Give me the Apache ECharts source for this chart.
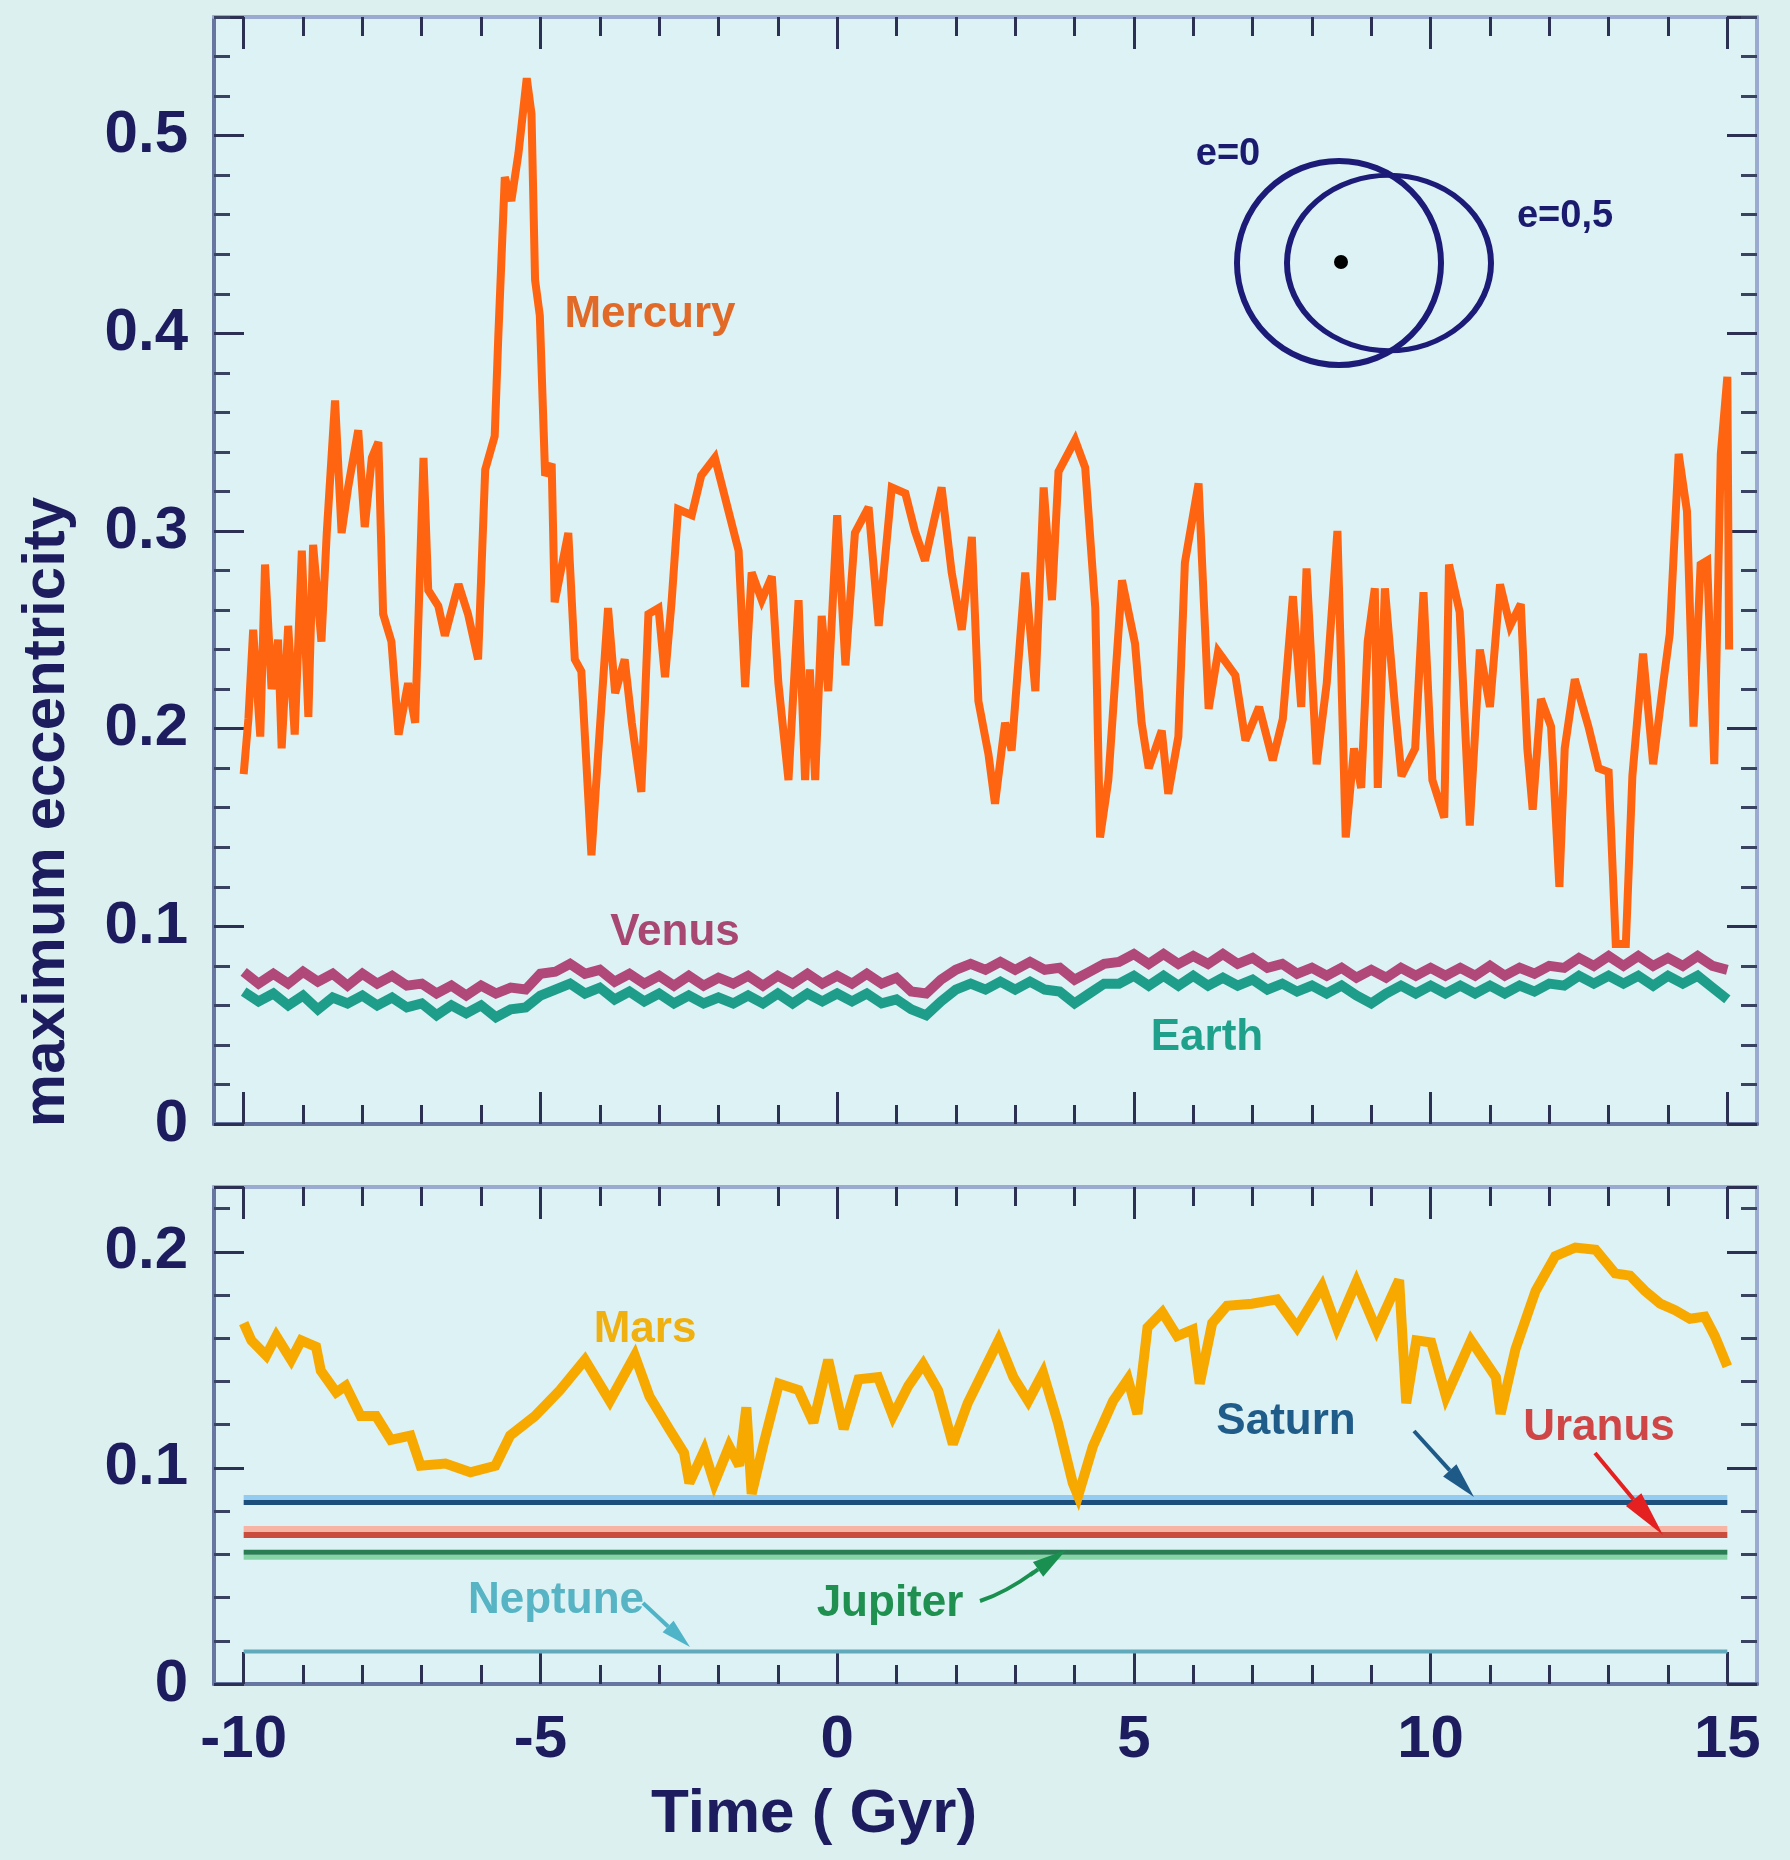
<!DOCTYPE html>
<html>
<head>
<meta charset="utf-8">
<title>maximum eccentricity</title>
<script src="https://cdn.jsdelivr.net/npm/echarts@6/dist/echarts.min.js"></script>
<style>
html, body { margin: 0; padding: 0; background: #dcf0f0; }
#cn { width: 1790px; height: 1860px; }
</style>
</head>
<body>
<div id="cn"></div>
<script>
'use strict';

// time axis ticks (Gyr)
const xMajor = [-10, -5, 0, 5, 10, 15];
const xMinor = [-10, -9, -8, -7, -6, -5, -4, -3, -2, -1, 0, 1, 2, 3, 4, 5, 6, 7, 8, 9, 10, 11, 12, 13, 14, 15];

// Mercury
const mercuryT = [-10.0, -9.92, -9.84, -9.72, -9.64, -9.53, -9.42, -9.36, -9.25, -9.14, -9.02, -8.91, -8.83, -8.69, -8.60, -8.46, -8.35, -8.24, -8.07, -7.96,
    -7.84, -7.73, -7.65, -7.51, -7.39, -7.23, -7.11, -6.97, -6.89, -6.72, -6.61, -6.38, -6.22, -6.05, -5.93, -5.77, -5.71, -5.60, -5.49, -5.37,
    -5.23, -5.15, -5.09, -5.01, -4.92, -4.81, -4.76, -4.53, -4.42, -4.31, -4.14, -4.03, -3.86, -3.74, -3.58, -3.46, -3.30, -3.18, -3.01, -2.90,
    -2.79, -2.68, -2.45, -2.29, -2.06,
    -1.66, -1.55, -1.44, -1.27, -1.10, -0.99, -0.82, -0.65, -0.54, -0.46, -0.37, -0.26, -0.15, 0.00, 0.14, 0.30, 0.53, 0.70, 0.92, 1.15,
    1.31, 1.48, 1.76, 1.93, 2.10, 2.27, 2.38, 2.55, 2.66, 2.83, 2.94, 3.17, 3.34, 3.48, 3.62, 3.73, 4.01, 4.18, 4.35, 4.43,
    4.57, 4.80, 5.02, 5.13, 5.25, 5.47, 5.58, 5.75, 5.86, 6.09, 6.26, 6.42,
    6.71, 6.88, 7.11, 7.34, 7.51, 7.68, 7.82, 7.91, 8.08, 8.25, 8.43, 8.57, 8.71, 8.83, 8.94, 9.06, 9.11, 9.23, 9.40, 9.51,
    9.74, 9.88, 10.03, 10.23, 10.31, 10.49, 10.66, 10.83, 11.00, 11.17, 11.34, 11.52, 11.63, 11.72, 11.86, 12.03, 12.17, 12.26, 12.43, 12.66,
    12.83, 13.00, 13.12, 13.29, 13.40, 13.58, 13.75, 13.92, 14.03, 14.18, 14.32, 14.43, 14.55, 14.66, 14.78, 14.89, 15.0, 15.03];
const mercuryE = [0.177, 0.205, 0.250, 0.196, 0.283, 0.220, 0.245, 0.190, 0.252, 0.197, 0.290, 0.206, 0.293, 0.244, 0.299, 0.366, 0.299, 0.322, 0.351, 0.302,
    0.337, 0.345, 0.258, 0.244, 0.197, 0.223, 0.203, 0.337, 0.270, 0.262, 0.247, 0.273, 0.258, 0.235, 0.331, 0.348, 0.398, 0.479, 0.467, 0.491,
    0.529, 0.511, 0.427, 0.409, 0.328, 0.334, 0.264, 0.299, 0.235, 0.229, 0.136, 0.186, 0.261, 0.218, 0.235, 0.203, 0.168, 0.258, 0.261, 0.226,
    0.264, 0.311, 0.308, 0.328, 0.337,
    0.290, 0.221, 0.279, 0.265, 0.277, 0.223, 0.174, 0.265, 0.174, 0.230, 0.174, 0.257, 0.219, 0.308, 0.232, 0.299, 0.312, 0.252, 0.322, 0.319,
    0.300, 0.285, 0.322, 0.279, 0.250, 0.297, 0.214, 0.187, 0.162, 0.203, 0.189, 0.279, 0.219, 0.322, 0.265, 0.330, 0.346, 0.332, 0.261, 0.145,
    0.174, 0.275, 0.243, 0.203, 0.180, 0.199, 0.167, 0.196, 0.284, 0.324, 0.210, 0.239,
    0.227, 0.194, 0.211, 0.184, 0.205, 0.267, 0.211, 0.281, 0.182, 0.223, 0.300, 0.145, 0.190, 0.170, 0.244, 0.271, 0.170, 0.271, 0.211, 0.176,
    0.190, 0.269, 0.174, 0.155, 0.283, 0.259, 0.151, 0.240, 0.211, 0.273, 0.252, 0.263, 0.190, 0.159, 0.215, 0.201, 0.120, 0.190, 0.225, 0.201,
    0.180, 0.178, 0.091, 0.091, 0.176, 0.238, 0.182, 0.223, 0.248, 0.339, 0.310, 0.201, 0.283, 0.285, 0.182, 0.339, 0.378, 0.240];

// Venus and Earth share one time grid
const innerT = [-10, -9.75, -9.5, -9.25, -9, -8.75, -8.5, -8.25, -8, -7.75, -7.5, -7.25, -7, -6.75, -6.5, -6.25, -6, -5.75, -5.5, -5.25,
    -5, -4.75, -4.5, -4.25, -4, -3.75, -3.5, -3.25, -3, -2.75, -2.5, -2.25, -2, -1.75, -1.5, -1.25, -1, -0.75, -0.5, -0.25,
    0, 0.25, 0.5, 0.75, 1, 1.25, 1.5, 1.75, 2, 2.25, 2.5, 2.75, 3, 3.25, 3.5, 3.75, 4, 4.25, 4.5, 4.75,
    5, 5.25, 5.5, 5.75, 6, 6.25, 6.5, 6.75, 7, 7.25, 7.5, 7.75, 8, 8.25, 8.5, 8.75, 9, 9.25, 9.5, 9.75,
    10, 10.25, 10.5, 10.75, 11, 11.25, 11.5, 11.75, 12, 12.25, 12.5, 12.75, 13, 13.25, 13.5, 13.75, 14, 14.25, 14.5, 14.75, 15];
const venusE = [0.077, 0.071, 0.076, 0.071, 0.077, 0.072, 0.076, 0.070, 0.076, 0.071, 0.075, 0.070, 0.071, 0.066, 0.070, 0.065, 0.070, 0.066, 0.069, 0.068,
    0.076, 0.077, 0.081, 0.076, 0.078, 0.072, 0.076, 0.071, 0.075, 0.070, 0.075, 0.070, 0.074, 0.071, 0.075, 0.070, 0.075, 0.071, 0.076, 0.071,
    0.075, 0.071, 0.076, 0.071, 0.074, 0.067, 0.066, 0.073, 0.078, 0.081, 0.078, 0.082, 0.078, 0.082, 0.078, 0.079, 0.073, 0.077, 0.081, 0.082,
    0.086, 0.081, 0.086, 0.081, 0.085, 0.081, 0.086, 0.081, 0.084, 0.079, 0.081, 0.076, 0.079, 0.075, 0.079, 0.074, 0.078, 0.074, 0.079, 0.075,
    0.079, 0.075, 0.079, 0.075, 0.080, 0.075, 0.079, 0.076, 0.080, 0.079, 0.084, 0.080, 0.085, 0.080, 0.085, 0.080, 0.084, 0.080, 0.085, 0.080, 0.078];
const earthE = [0.067, 0.062, 0.066, 0.060, 0.065, 0.058, 0.064, 0.061, 0.065, 0.060, 0.064, 0.059, 0.061, 0.055, 0.060, 0.056, 0.060, 0.054, 0.058, 0.059,
    0.065, 0.068, 0.071, 0.066, 0.069, 0.063, 0.067, 0.062, 0.066, 0.061, 0.065, 0.061, 0.064, 0.061, 0.065, 0.061, 0.066, 0.061, 0.066, 0.062,
    0.066, 0.062, 0.066, 0.061, 0.063, 0.058, 0.055, 0.062, 0.068, 0.071, 0.068, 0.072, 0.068, 0.072, 0.068, 0.067, 0.061, 0.066, 0.071, 0.071,
    0.075, 0.070, 0.075, 0.070, 0.075, 0.070, 0.074, 0.070, 0.073, 0.068, 0.071, 0.067, 0.070, 0.066, 0.070, 0.065, 0.061, 0.066, 0.070, 0.066,
    0.070, 0.066, 0.070, 0.066, 0.070, 0.066, 0.070, 0.067, 0.071, 0.070, 0.075, 0.071, 0.075, 0.071, 0.075, 0.070, 0.075, 0.071, 0.075, 0.069, 0.063];

// Mars
const marsT = [-10.0, -9.87, -9.62, -9.45, -9.20, -9.03, -8.78, -8.70, -8.44, -8.28, -8.03, -7.77, -7.52, -7.19, -7.02, -6.60, -6.18, -5.76, -5.51, -5.09,
    -4.67, -4.25, -3.83, -3.41, -3.16, -2.83, -2.58, -2.49, -2.24, -2.07, -1.82, -1.65, -1.53, -1.44, -1.24, -0.98, -0.65, -0.40, -0.15, 0.11,
    0.36, 0.69, 0.94, 1.20, 1.45, 1.70, 1.95, 2.20, 2.72, 2.97, 3.22, 3.47, 3.72, 3.97, 4.06, 4.31, 4.65, 4.90, 5.06, 5.23,
    5.48, 5.73, 5.99, 6.11, 6.32, 6.57, 6.99, 7.41, 7.75, 8.17, 8.42, 8.75, 9.09, 9.47, 9.59, 9.76, 10.01, 10.26, 10.68, 11.10,
    11.18, 11.43, 11.77, 12.10, 12.44, 12.78, 13.11, 13.36, 13.61, 13.87, 14.12, 14.37, 14.62, 14.79, 15.0];
const marsE = [0.167, 0.159, 0.152, 0.161, 0.150, 0.159, 0.156, 0.145, 0.135, 0.138, 0.124, 0.124, 0.113, 0.115, 0.101, 0.102, 0.098, 0.101, 0.115, 0.124,
    0.136, 0.150, 0.131, 0.152, 0.133, 0.118, 0.107, 0.093, 0.108, 0.093, 0.110, 0.101, 0.128, 0.088, 0.111, 0.139, 0.136, 0.121, 0.150, 0.118,
    0.141, 0.142, 0.124, 0.138, 0.148, 0.136, 0.111, 0.130, 0.159, 0.142, 0.131, 0.144, 0.121, 0.093, 0.087, 0.110, 0.131, 0.141, 0.125, 0.165,
    0.172, 0.161, 0.164, 0.139, 0.167, 0.175, 0.176, 0.178, 0.165, 0.184, 0.165, 0.186, 0.164, 0.187, 0.130, 0.159, 0.158, 0.133, 0.159, 0.142,
    0.125, 0.155, 0.182, 0.198, 0.202, 0.201, 0.190, 0.189, 0.182, 0.176, 0.173, 0.169, 0.170, 0.161, 0.147];

// giant planets: flat lines
const outerNames = ['Saturn', 'Uranus', 'Jupiter', 'Neptune'];
const outerE = [0.084, 0.069, 0.061, 0.015];
const outerSpan = [-10, 15];

const FONT = '"Liberation Sans", Arial, sans-serif';
const NAVY = '#1c1c5e';
const TICK = '#2c3052';

const pairs = (t, e) => t.map((v, i) => [v, e[i]]);

function xAx(grid, pos, values, len, labels) {
    return {
        type: 'value', gridIndex: grid, position: pos, min: -10.5, max: 15.5,
        axisLine: { show: true, onZero: false, lineStyle: { color: pos === 'bottom' ? '#6676a0' : '#9aaad0', width: 4 } },
        axisTick: { show: true, inside: true, length: len, customValues: values, lineStyle: { color: TICK, width: 3 } },
        axisLabel: { show: labels, customValues: xMajor, margin: 26, color: NAVY, fontSize: 60, fontWeight: 'bold', fontFamily: FONT },
        splitLine: { show: false }
    };
}

function yAx(grid, pos, max, labels) {
    return {
        type: 'value', gridIndex: grid, position: pos, min: 0, max: max, interval: 0.1,
        axisLine: { show: true, onZero: false, lineStyle: { color: pos === 'left' ? '#6676a0' : '#9aaad0', width: 4 } },
        axisTick: { show: true, inside: true, length: 30, lineStyle: { color: TICK, width: 3 } },
        minorTick: { show: true, splitNumber: 5, length: 16, lineStyle: { color: '#3a4262', width: 3 } },
        axisLabel: {
            show: labels, margin: 26, color: NAVY, fontSize: 60, fontWeight: 'bold', fontFamily: FONT,
            formatter: v => {
                const r = Math.round(v * 10) / 10;
                return Math.abs(v - r) < 1e-6 ? String(r) : '';
            }
        },
        splitLine: { show: false },
        minorSplitLine: { show: false }
    };
}

function line(name, data, color, width, xi, yi, z, extra) {
    return Object.assign({
        name: name, type: 'line', data: data, xAxisIndex: xi, yAxisIndex: yi,
        showSymbol: false, symbol: 'none', silent: true, animation: false, z: z,
        lineStyle: { color: color, width: width, join: 'miter', miterLimit: 3 }
    }, extra || {});
}

function text(str, x, y, color, size, rot) {
    return {
        type: 'text', x: x, y: y, rotation: rot || 0, z: 100,
        style: { text: str, fill: color, fontSize: size, fontWeight: 'bold', fontFamily: FONT, align: 'center', verticalAlign: 'middle' }
    };
}

function arrow(x1, y1, x2, y2, color, w, headLen, headW) {
    const dx = x2 - x1, dy = y2 - y1, L = Math.hypot(dx, dy);
    const ux = dx / L, uy = dy / L;
    const bx = x2 - ux * headLen, by = y2 - uy * headLen;
    return [
        { type: 'line', z: 100, shape: { x1: x1, y1: y1, x2: bx, y2: by }, style: { stroke: color, lineWidth: w } },
        { type: 'polygon', z: 100, shape: { points: [[x2, y2], [bx - uy * headW, by + ux * headW], [bx + uy * headW, by - ux * headW]] }, style: { fill: color } }
    ];
}

const outerStyle = {
    Saturn: { color: '#1d4f7c', width: 5, shadowColor: '#94cbf0', shadowOffsetY: -5 },
    Uranus: { color: '#c94c3c', width: 6, shadowColor: '#f7b4a4', shadowOffsetY: -6 },
    Jupiter: { color: '#2a7c52', width: 5, shadowColor: '#86d4a6', shadowOffsetY: 5 },
    Neptune: { color: '#62aabb', width: 4 }
};

const outerSeries = outerNames.map((n, i) => ({
    name: n, type: 'line', xAxisIndex: 4, yAxisIndex: 2, showSymbol: false, symbol: 'none',
    silent: true, animation: false, z: 2,
    data: outerSpan.map(t => [t, outerE[i]]),
    lineStyle: Object.assign({ shadowBlur: 0 }, outerStyle[n])
}));

const chart = echarts.init(document.getElementById('cn'), null, { renderer: 'canvas' });

const option = {
    backgroundColor: '#dcf0f0',
    animation: false,
    grid: [
        { left: 214, top: 17, right: 33, height: 1107, show: true, backgroundColor: '#ddf2f4', borderWidth: 0 },
        { left: 214, top: 1187, right: 33, height: 497, show: true, backgroundColor: '#ddf2f4', borderWidth: 0 }
    ],
    xAxis: [
        xAx(0, 'bottom', xMajor, 32, false),
        xAx(0, 'bottom', xMinor, 19, false),
        xAx(0, 'top', xMajor, 32, false),
        xAx(0, 'top', xMinor, 19, false),
        xAx(1, 'bottom', xMajor, 32, true),
        xAx(1, 'bottom', xMinor, 19, false),
        xAx(1, 'top', xMajor, 32, false),
        xAx(1, 'top', xMinor, 19, false)
    ],
    yAxis: [
        yAx(0, 'left', 0.56, true),
        yAx(0, 'right', 0.56, false),
        yAx(1, 'left', 0.23, true),
        yAx(1, 'right', 0.23, false)
    ],
    series: [
        line('Earth', pairs(innerT, earthE), '#1e9e8a', 10, 0, 0, 3),
        line('Venus', pairs(innerT, venusE), '#b0487a', 10, 0, 0, 4),
        line('Mercury', pairs(mercuryT, mercuryE), '#ff6510', 8, 0, 0, 5),
        ...outerSeries,
        line('Mars', pairs(marsT, marsE), '#f7a900', 10, 4, 2, 5)
    ],
    graphic: [
        text('maximum eccentricity', 47, 812, NAVY, 60, Math.PI / 2),
        text('Time ( Gyr)', 814, 1815, NAVY, 62),
        text('Mercury', 650, 315, '#e26a28', 44),
        text('Venus', 675, 933, '#a84872', 44),
        text('Earth', 1207, 1038, '#1ea08a', 44),
        text('Mars', 645, 1330, '#f0b010', 44),
        text('Saturn', 1286, 1422, '#1f5c8a', 44),
        text('Uranus', 1599, 1428, '#d04646', 44),
        text('Neptune', 556, 1601, '#56b4c4', 44),
        text('Jupiter', 890, 1604, '#1f9050', 44),
        text('e=0', 1228, 155, '#1a1a6e', 38),
        text('e=0,5', 1565, 217, '#1a1a6e', 38),
        { type: 'circle', z: 100, shape: { cx: 1339, cy: 263, r: 102 }, style: { fill: 'none', stroke: '#1c1c78', lineWidth: 6 } },
        { type: 'circle', z: 100, x: 1389, y: 263, scaleY: 0.86, shape: { cx: 0, cy: 0, r: 102 }, style: { fill: 'none', stroke: '#1c1c78', lineWidth: 6, strokeNoScale: true } },
        { type: 'circle', z: 101, shape: { cx: 1341, cy: 262, r: 7 }, style: { fill: '#000' } },
        ...arrow(1414, 1431, 1474, 1497, '#1e5a88', 4, 36, 9),
        ...arrow(1595, 1453, 1663, 1535, '#e42020', 4, 46, 10),
        ...arrow(643, 1603, 690, 1647, '#50b4c8', 4, 30, 8),
        { type: 'bezierCurve', z: 100, shape: { x1: 980, y1: 1601, cpx1: 1005, cpy1: 1593, x2: 1034, y2: 1572 }, style: { fill: 'none', stroke: '#1a9050', lineWidth: 4 } },
        ...arrow(1030, 1575, 1066, 1550, '#1a9050', 4, 34, 9)
    ]
};

chart.setOption(option);
</script>
</body>
</html>
